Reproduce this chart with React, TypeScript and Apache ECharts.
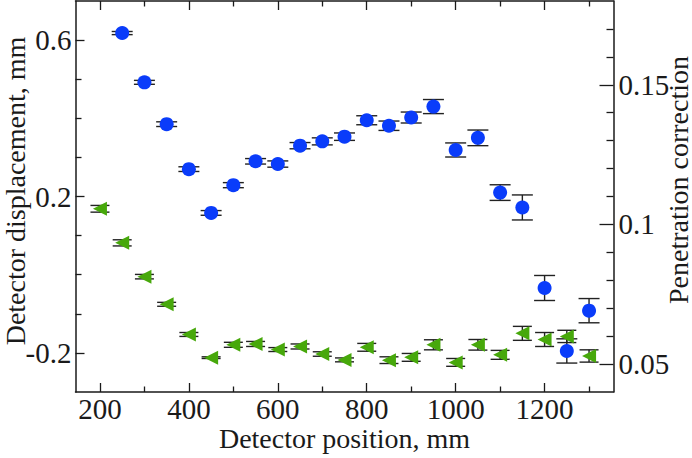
import { useEffect, useRef } from 'react';
import * as echarts from 'echarts';

// Detector displacement (left axis, blue circles)
const positionsBlue = [250, 300, 350, 400, 450, 500, 550, 600, 650, 700, 750, 800, 850, 900, 950, 1000, 1050, 1100, 1150, 1200, 1250, 1300];
const displacement = [0.618, 0.492, 0.385, 0.270, 0.158, 0.229, 0.290, 0.283, 0.330, 0.341, 0.353, 0.395, 0.381, 0.402, 0.430, 0.319, 0.350, 0.210, 0.172, -0.034, -0.195, -0.092];
const displacementErr = [0.004, 0.005, 0.006, 0.006, 0.006, 0.0065, 0.007, 0.008, 0.008, 0.009, 0.0095, 0.0115, 0.012, 0.014, 0.018, 0.018, 0.02, 0.02, 0.032, 0.032, 0.031, 0.031];

// Penetration correction (right axis, green triangles)
const positionsGreen = [200, 250, 300, 350, 400, 450, 500, 550, 600, 650, 700, 750, 800, 850, 900, 950, 1000, 1050, 1100, 1150, 1200, 1250, 1300];
const penetration = [0.1056, 0.0934, 0.0813, 0.0714, 0.0606, 0.0523, 0.0569, 0.0572, 0.0552, 0.0563, 0.0536, 0.0515, 0.0560, 0.0514, 0.0524, 0.0569, 0.0506, 0.0569, 0.0533, 0.0610, 0.0588, 0.0599, 0.0529];
const penetrationErr = [0.0012, 0.0011, 0.0008, 0.0007, 0.0007, 0.0003, 0.0009, 0.0009, 0.0007, 0.0009, 0.0008, 0.0007, 0.0014, 0.0012, 0.0014, 0.0018, 0.0014, 0.0019, 0.0016, 0.0025, 0.0025, 0.0022, 0.0022];

// Ticks
const xMajorTicks = [200, 400, 600, 800, 1000, 1200];
const xMinorTicks = [300, 500, 700, 900, 1100, 1300];
const leftMajorTicks = [-0.2, 0.2, 0.6];
const leftMinorTicks = [-0.1, 0, 0.1, 0.3, 0.4, 0.5];
const rightMajorTicks = [0.05, 0.1, 0.15];
const rightMinorTicks = [0.06, 0.07, 0.08, 0.09, 0.11, 0.12, 0.13, 0.14, 0.16, 0.17];

const xTitle = 'Detector position, mm';
const leftTitle = 'Detector displacement, mm';
const rightTitle = 'Penetration correction';

const FONT = 'Liberation Serif';
const INK = '#1a1a1a';
const lineStyle = { color: INK, width: 1.5 };

function mkAxis(position: string, min: number, max: number, ticks: number[], len: number, showLine: boolean, labels: number[] | null, margin = 4) {
  return {
    type: 'value',
    position,
    min,
    max,
    axisLine: { show: showLine, onZero: false, lineStyle },
    axisTick: { show: true, inside: true, length: len, customValues: ticks, lineStyle: { color: INK, width: 1.3 } },
    axisLabel: labels
      ? { show: true, customValues: labels, margin, fontSize: 29, lineHeight: 22, fontFamily: FONT, color: INK, formatter: (v: number) => String(Math.round(v * 1000) / 1000) }
      : { show: false },
    splitLine: { show: false },
  };
}

function errRender(cap: number) {
  return (params: any, api: any) => {
    const x = api.value(0);
    const y = api.value(1);
    const e = api.value(2);
    const top = api.coord([x, y + e]);
    const bot = api.coord([x, y - e]);
    const style = { stroke: '#222', lineWidth: 1.4, fill: null };
    return {
      type: 'group',
      children: [
        { type: 'line', shape: { x1: top[0], y1: top[1], x2: bot[0], y2: bot[1] }, style },
        { type: 'line', shape: { x1: top[0] - cap, y1: top[1], x2: top[0] + cap, y2: top[1] }, style },
        { type: 'line', shape: { x1: bot[0] - cap, y1: bot[1], x2: bot[0] + cap, y2: bot[1] }, style },
      ],
    };
  };
}

export default function App() {
  const ref = useRef<HTMLDivElement>(null);
  useEffect(() => {
    if (!ref.current) return;
    const chart = echarts.init(ref.current, null, { renderer: 'svg' });
    const blueData = positionsBlue.map((x, i) => [x, displacement[i], displacementErr[i]]);
    const greenData = positionsGreen.map((x, i) => [x, penetration[i], penetrationErr[i]]);
    const titleStyle = { fontSize: 28, fontFamily: FONT, lineHeight: 24, fill: INK, align: 'center', verticalAlign: 'middle' };
    chart.setOption({
      animation: false,
      backgroundColor: '#ffffff',
      grid: { left: 75.5, right: 78.5, top: 1, bottom: 66, containLabel: false },
      xAxis: [
        mkAxis('bottom', 145, 1355, xMajorTicks, 9, true, xMajorTicks, 6),
        mkAxis('bottom', 145, 1355, xMinorTicks, 5.5, false, null),
        mkAxis('top', 145, 1355, xMajorTicks, 9, true, null),
        mkAxis('top', 145, 1355, xMinorTicks, 5.5, false, null),
      ],
      yAxis: [
        mkAxis('left', -0.3, 0.7, leftMajorTicks, 9, true, leftMajorTicks, 4),
        mkAxis('left', -0.3, 0.7, leftMinorTicks, 6, false, null),
        mkAxis('right', 0.04, 0.18, rightMajorTicks, 14, true, rightMajorTicks, 5),
        mkAxis('right', 0.04, 0.18, rightMinorTicks, 7, false, null),
      ],
      graphic: [
        { type: 'text', x: 344.5, y: 438, style: { ...titleStyle, text: xTitle } },
        { type: 'text', x: 15, y: 191, rotation: Math.PI / 2, style: { ...titleStyle, text: leftTitle } },
        { type: 'text', x: 678, y: 180, rotation: Math.PI / 2, style: { ...titleStyle, text: rightTitle } },
      ],
      series: [
        { type: 'custom', name: 'err-green', xAxisIndex: 0, yAxisIndex: 2, data: greenData, encode: { x: 0, y: 1 }, renderItem: errRender(9.5), z: 2 },
        { type: 'custom', name: 'err-blue', xAxisIndex: 0, yAxisIndex: 0, data: blueData, encode: { x: 0, y: 1 }, renderItem: errRender(10.5), z: 2 },
        { type: 'scatter', name: rightTitle, xAxisIndex: 0, yAxisIndex: 2, data: greenData.map(d => [d[0], d[1]]), symbol: 'triangle', symbolRotate: 90, symbolSize: 14, itemStyle: { color: '#47a80b', opacity: 1 }, z: 3 },
        { type: 'scatter', name: leftTitle, xAxisIndex: 0, yAxisIndex: 0, data: blueData.map(d => [d[0], d[1]]), symbol: 'circle', symbolSize: 14, itemStyle: { color: '#0a3cfa', opacity: 1 }, z: 4 },
      ],
    });
    return () => chart.dispose();
  }, []);
  return <div ref={ref} style={{ position: 'fixed', left: 0, top: 0, width: 692, height: 458, background: '#fff' }} />;
}
